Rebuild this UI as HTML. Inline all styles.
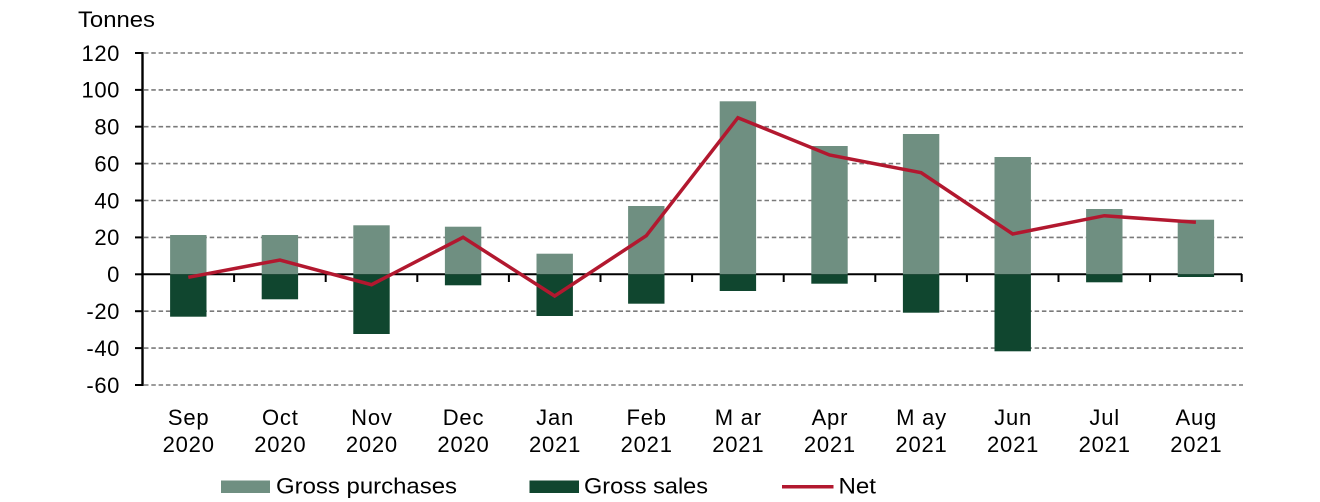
<!DOCTYPE html>
<html>
<head>
<meta charset="utf-8">
<style>
  html, body { margin: 0; padding: 0; background: #ffffff; }
  svg { display: block; }
  text { font-family: "Liberation Sans", Arial, sans-serif; fill: #000; }
</style>
</head>
<body>
<svg width="1320" height="502" viewBox="0 0 1320 502" xmlns="http://www.w3.org/2000/svg">
  <rect x="0" y="0" width="1320" height="502" fill="#ffffff"/>

  <!-- Title -->
  <text x="78" y="27" font-size="22" textLength="77" lengthAdjust="spacingAndGlyphs">Tonnes</text>

  <!-- Gridlines -->
  <g stroke="#7a7a7a" stroke-width="1.6" stroke-dasharray="4.5,2.8">
    <line x1="144" y1="53" x2="1243" y2="53"/>
    <line x1="144" y1="89.9" x2="1243" y2="89.9"/>
    <line x1="144" y1="126.7" x2="1243" y2="126.7"/>
    <line x1="144" y1="163.6" x2="1243" y2="163.6"/>
    <line x1="144" y1="200.5" x2="1243" y2="200.5"/>
    <line x1="144" y1="237.4" x2="1243" y2="237.4"/>
    <line x1="144" y1="311.2" x2="1243" y2="311.2"/>
    <line x1="144" y1="348.1" x2="1243" y2="348.1"/>
    <line x1="144" y1="385" x2="1243" y2="385"/>
  </g>

  <!-- Y tick labels -->
  <g font-size="22" text-anchor="end" letter-spacing="0.6">
    <text x="120" y="60.8">120</text>
    <text x="120" y="97.7">100</text>
    <text x="120" y="134.5">80</text>
    <text x="120" y="171.4">60</text>
    <text x="120" y="208.3">40</text>
    <text x="120" y="245.2">20</text>
    <text x="120" y="282.1">0</text>
    <text x="120" y="319">-20</text>
    <text x="120" y="355.9">-40</text>
    <text x="120" y="392.8">-60</text>
  </g>

  <!-- Axes -->
  <g stroke="#000" stroke-width="2">
    <line x1="142.5" y1="52" x2="142.5" y2="386" stroke-width="2.4"/>
    <line x1="142" y1="274.3" x2="1242" y2="274.3"/>
    <!-- y ticks -->
    <line x1="135" y1="53" x2="143" y2="53"/>
    <line x1="135" y1="89.9" x2="143" y2="89.9"/>
    <line x1="135" y1="126.7" x2="143" y2="126.7"/>
    <line x1="135" y1="163.6" x2="143" y2="163.6"/>
    <line x1="135" y1="200.5" x2="143" y2="200.5"/>
    <line x1="135" y1="237.4" x2="143" y2="237.4"/>
    <line x1="135" y1="274.3" x2="143" y2="274.3"/>
    <line x1="135" y1="311.2" x2="143" y2="311.2"/>
    <line x1="135" y1="348.1" x2="143" y2="348.1"/>
    <line x1="135" y1="385" x2="143" y2="385"/>
    <!-- x ticks -->
    <line x1="234.1" y1="274" x2="234.1" y2="282"/>
    <line x1="325.7" y1="274" x2="325.7" y2="282"/>
    <line x1="417.3" y1="274" x2="417.3" y2="282"/>
    <line x1="508.9" y1="274" x2="508.9" y2="282"/>
    <line x1="600.5" y1="274" x2="600.5" y2="282"/>
    <line x1="692.1" y1="274" x2="692.1" y2="282"/>
    <line x1="783.7" y1="274" x2="783.7" y2="282"/>
    <line x1="875.3" y1="274" x2="875.3" y2="282"/>
    <line x1="966.9" y1="274" x2="966.9" y2="282"/>
    <line x1="1058.5" y1="274" x2="1058.5" y2="282"/>
    <line x1="1150.1" y1="274" x2="1150.1" y2="282"/>
    <line x1="1241.7" y1="274" x2="1241.7" y2="282"/>
  </g>

  <!-- Gross purchases bars -->
  <g fill="#6f8f81">
    <rect x="170.1" y="235" width="36.4" height="39.3"/>
    <rect x="261.7" y="235" width="36.4" height="39.3"/>
    <rect x="353.3" y="225.3" width="36.4" height="49"/>
    <rect x="444.9" y="226.7" width="36.4" height="47.6"/>
    <rect x="536.5" y="253.7" width="36.4" height="20.6"/>
    <rect x="628.1" y="206" width="36.4" height="68.3"/>
    <rect x="719.7" y="101.3" width="36.4" height="173"/>
    <rect x="811.3" y="146" width="36.4" height="128.3"/>
    <rect x="902.9" y="134" width="36.4" height="140.3"/>
    <rect x="994.5" y="157" width="36.4" height="117.3"/>
    <rect x="1086.1" y="209" width="36.4" height="65.3"/>
    <rect x="1177.7" y="219.7" width="36.4" height="54.6"/>
  </g>

  <!-- Gross sales bars -->
  <g fill="#10462f">
    <rect x="170.1" y="274.3" width="36.4" height="42.4"/>
    <rect x="261.7" y="274.3" width="36.4" height="25"/>
    <rect x="353.3" y="274.3" width="36.4" height="59.7"/>
    <rect x="444.9" y="274.3" width="36.4" height="11"/>
    <rect x="536.5" y="274.3" width="36.4" height="41.7"/>
    <rect x="628.1" y="274.3" width="36.4" height="29.4"/>
    <rect x="719.7" y="274.3" width="36.4" height="16.7"/>
    <rect x="811.3" y="274.3" width="36.4" height="9.4"/>
    <rect x="902.9" y="274.3" width="36.4" height="38.4"/>
    <rect x="994.5" y="274.3" width="36.4" height="77"/>
    <rect x="1086.1" y="274.3" width="36.4" height="8"/>
    <rect x="1177.7" y="274.3" width="36.4" height="2.7"/>
  </g>

  <!-- Net line -->
  <polyline fill="none" stroke="#b2182f" stroke-width="3.5" stroke-linejoin="miter"
    points="188.3,277.3 279.9,260 371.5,284.7 463.1,237.3 554.7,296 646.3,235.7 737.9,117.7 829.5,155 921.1,172.7 1012.7,234 1104.3,215.7 1195.9,222.3"/>

  <!-- X labels -->
  <g font-size="22" text-anchor="middle" letter-spacing="0.8">
    <text x="188.7" y="425">Sep</text><text x="188.7" y="452">2020</text>
    <text x="280.3" y="425">Oct</text><text x="280.3" y="452">2020</text>
    <text x="371.9" y="425">Nov</text><text x="371.9" y="452">2020</text>
    <text x="463.5" y="425">Dec</text><text x="463.5" y="452">2020</text>
    <text x="555.1" y="425">Jan</text><text x="555.1" y="452">2021</text>
    <text x="646.7" y="425">Feb</text><text x="646.7" y="452">2021</text>
    <text x="738.3" y="425">M ar</text><text x="738.3" y="452">2021</text>
    <text x="829.9" y="425">Apr</text><text x="829.9" y="452">2021</text>
    <text x="921.5" y="425">M ay</text><text x="921.5" y="452">2021</text>
    <text x="1013.1" y="425">Jun</text><text x="1013.1" y="452">2021</text>
    <text x="1104.7" y="425">Jul</text><text x="1104.7" y="452">2021</text>
    <text x="1196.3" y="425">Aug</text><text x="1196.3" y="452">2021</text>
  </g>

  <!-- Legend -->
  <rect x="221" y="480.5" width="49" height="12.5" fill="#6f8f81"/>
  <text x="276" y="493.5" font-size="22" textLength="181" lengthAdjust="spacingAndGlyphs">Gross purchases</text>
  <rect x="529.5" y="480.5" width="49.5" height="12.5" fill="#10462f"/>
  <text x="584" y="493.5" font-size="22" textLength="124" lengthAdjust="spacingAndGlyphs">Gross sales</text>
  <line x1="782" y1="486.7" x2="833.5" y2="486.7" stroke="#b2182f" stroke-width="3.5"/>
  <text x="838.5" y="493.5" font-size="22" textLength="37.5" lengthAdjust="spacingAndGlyphs">Net</text>
</svg>
</body>
</html>
